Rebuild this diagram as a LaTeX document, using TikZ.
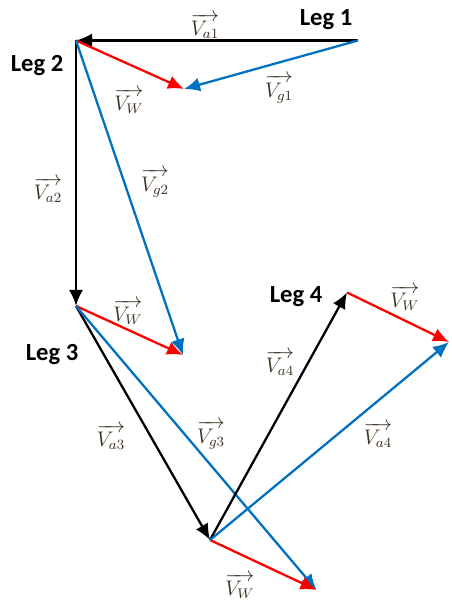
\documentclass[tikz,border=0pt]{standalone}
\usepackage{amsmath,amssymb}
\usepackage{xcolor}
\usepackage{fontspec}
\newfontfamily\legfont{Carlito}
\usepackage{tikz}
\usetikzlibrary{positioning, arrows.meta}

\definecolor{vblue}{RGB}{0,112,192}
\definecolor{vred}{RGB}{255,0,0}
\definecolor{labelcol}{RGB}{60,48,32}

\begin{document}
\begin{tikzpicture}[>={Latex[length=3.2mm,width=2.8mm]}, line width=1.3pt,
        leg/.style={font=\legfont\bfseries\fontsize{14}{16}\selectfont},
        vlabel/.style={text=labelcol, font=\large}]
        \useasboundingbox (0,0) rectangle (9.04,12.12);

        % Points
        \coordinate (l1) at (7.16,11.31);
        \coordinate (l2) at (1.52,11.31);
        \coordinate (w1) at (3.68,10.34);
        \coordinate (l3) at (1.52,6.00);
        \coordinate (w2) at (3.66,5.02);
        \coordinate (p) at (4.20,1.32);
        \coordinate (w3) at (6.33,0.32);
        \coordinate (l4) at (6.94,6.27);
        \coordinate (w4) at (8.98,5.28);

        % Nodes
        \node (leg1) [leg] at (6.52,11.72) {Leg 1};
        \node (leg2) [leg] at (0.74,10.80) {Leg 2};
        \node (leg3) [leg] at (1.04,5.02) {Leg 3};
        \node (leg4) [leg] at (5.92,6.18) {Leg 4};

        \node (va1) [vlabel] at (4.10,11.60) {$\overrightarrow{V_{a1}}$};
        \node (vw1) [vlabel] at (2.58,10.10) {$\overrightarrow{V_{W}}$};
        \node (vg1) [vlabel] at (5.58,10.34) {$\overrightarrow{V_{g1}}$};
        \node (va2) [vlabel] at (0.96,8.32) {$\overrightarrow{V_{a2}}$};
        \node (vg2) [vlabel] at (3.10,8.46) {$\overrightarrow{V_{g2}}$};
        \node (vw2) [vlabel] at (2.56,5.88) {$\overrightarrow{V_{W}}$};
        \node (va3) [vlabel] at (2.22,3.38) {$\overrightarrow{V_{a3}}$};
        \node (vg3) [vlabel] at (4.22,3.42) {$\overrightarrow{V_{g3}}$};
        \node (vw3) [vlabel] at (4.80,0.40) {$\overrightarrow{V_{W}}$};
        \node (va4) [vlabel] at (5.60,4.86) {$\overrightarrow{V_{a4}}$};
        \node (vg4) [vlabel] at (7.56,3.42) {$\overrightarrow{V_{a4}}$};
        \node (vw4) [vlabel] at (8.10,6.16) {$\overrightarrow{V_{W}}$};

        % Arrows
        \draw[->, draw=black] (l1) -- (l2);
        \draw[->, draw=vred] (l2) -- (w1);
        \draw[->, draw=vblue] (l1) -- (w1);

        \draw[->, draw=black] (l2) -- (l3);
        \draw[->, draw=vblue] (l2) -- (w2);
        \draw[->, draw=vred] (l3) -- (w2);

        \draw[->, draw=black] (l3) -- (p);
        \draw[->, draw=vblue] (l3) -- (w3);
        \draw[->, draw=vred] (p) -- (w3);

        \draw[->, draw=black] (p) -- (l4);
        \draw[->, draw=vblue] (p) -- (w4);
        \draw[->, draw=vred] (l4) -- (w4);

    \end{tikzpicture}
\end{document}
